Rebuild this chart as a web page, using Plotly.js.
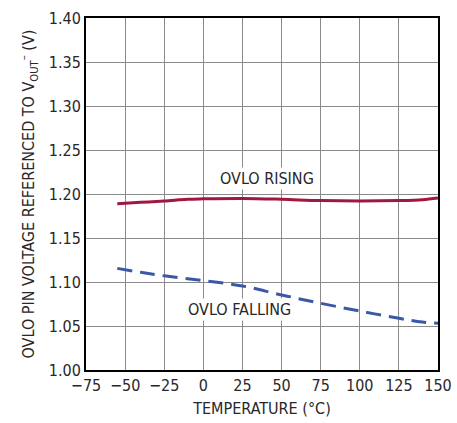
<!DOCTYPE html>
<html>
<head>
<meta charset="utf-8">
<script src="https://cdn.plot.ly/plotly-3.0.1.min.js"></script>
<style>html,body{margin:0;padding:0;background:#fff;}#chart{width:457px;height:423px;}</style>
</head>
<body>
<div id="chart"></div>
<script>
const risingTemp = [-55, -40, -25, -10, 0, 25, 50, 75, 100, 125, 140, 150];
const risingV    = [1.189, 1.1905, 1.192, 1.194, 1.1945, 1.195, 1.194, 1.1925, 1.192, 1.1925, 1.1935, 1.1955];
const fallingTemp = [-55, -40, -25, 0, 25, 50, 75, 100, 125, 140, 150];
const fallingV    = [1.1155, 1.111, 1.107, 1.1015, 1.0955, 1.0852, 1.0758, 1.067, 1.0587, 1.0545, 1.053];
const xTicks = [-75, -50, -25, 0, 25, 50, 75, 100, 125, 150];
const yTicks = [1.00, 1.05, 1.10, 1.15, 1.20, 1.25, 1.30, 1.35, 1.40];
const labels = [
  {text: 'OVLO RISING', x: 41, y: 1.218},
  {text: 'OVLO FALLING', x: 23, y: 1.069}
];

const FONT = '"DejaVu Sans Condensed", "Liberation Sans Narrow", Arial, sans-serif';
const TXT = '#2a2627';

const traces = [
  {x: risingTemp, y: risingV, mode: 'lines', line: {color: '#A0183F', width: 3, shape: 'spline'}, hoverinfo: 'skip'},
  {x: fallingTemp, y: fallingV, mode: 'lines', line: {color: '#3A57A8', width: 3, shape: 'spline', dash: '15px,8px'}, hoverinfo: 'skip'}
];

const layout = {
  width: 457, height: 423,
  margin: {l: 86, r: 19, t: 18, b: 53},
  paper_bgcolor: '#fff', plot_bgcolor: '#fff',
  showlegend: false,
  font: {family: FONT, size: 16, color: TXT},
  xaxis: {
    range: [-75, 150], tickvals: xTicks, ticktext: xTicks.map(v => v < 0 ? '\u2212' + Math.abs(v) : String(v)),
    showgrid: true, gridcolor: '#8a8a8a', gridwidth: 1, zeroline: false,
    showline: true, linecolor: '#000', linewidth: 2, mirror: true, ticks: '',
    tickfont: {family: FONT, size: 16, color: TXT},
    title: {text: 'TEMPERATURE (°C)', font: {family: FONT, size: 16, color: TXT}, standoff: 9}
  },
  yaxis: {
    range: [1.00, 1.40], tickvals: yTicks, ticktext: yTicks.map(v => v.toFixed(2)),
    showgrid: true, gridcolor: '#8a8a8a', gridwidth: 1, zeroline: false,
    showline: true, linecolor: '#000', linewidth: 2, mirror: true, ticks: '',
    tickfont: {family: FONT, size: 16, color: TXT},
    title: {text: 'OVLO PIN VOLTAGE REFERENCED TO V<sub>OUT</sub><sup>–</sup> (V)', font: {family: FONT, size: 16, color: TXT}, standoff: 10}
  },
  annotations: labels.map(l => ({x: l.x, y: l.y, xref: 'x', yref: 'y', text: l.text, showarrow: false,
    font: {family: FONT, size: 16, color: TXT}, bgcolor: '#fff', borderpad: 1}))
};

Plotly.newPlot('chart', traces, layout, {staticPlot: true, displayModeBar: false});
</script>
</body>
</html>
